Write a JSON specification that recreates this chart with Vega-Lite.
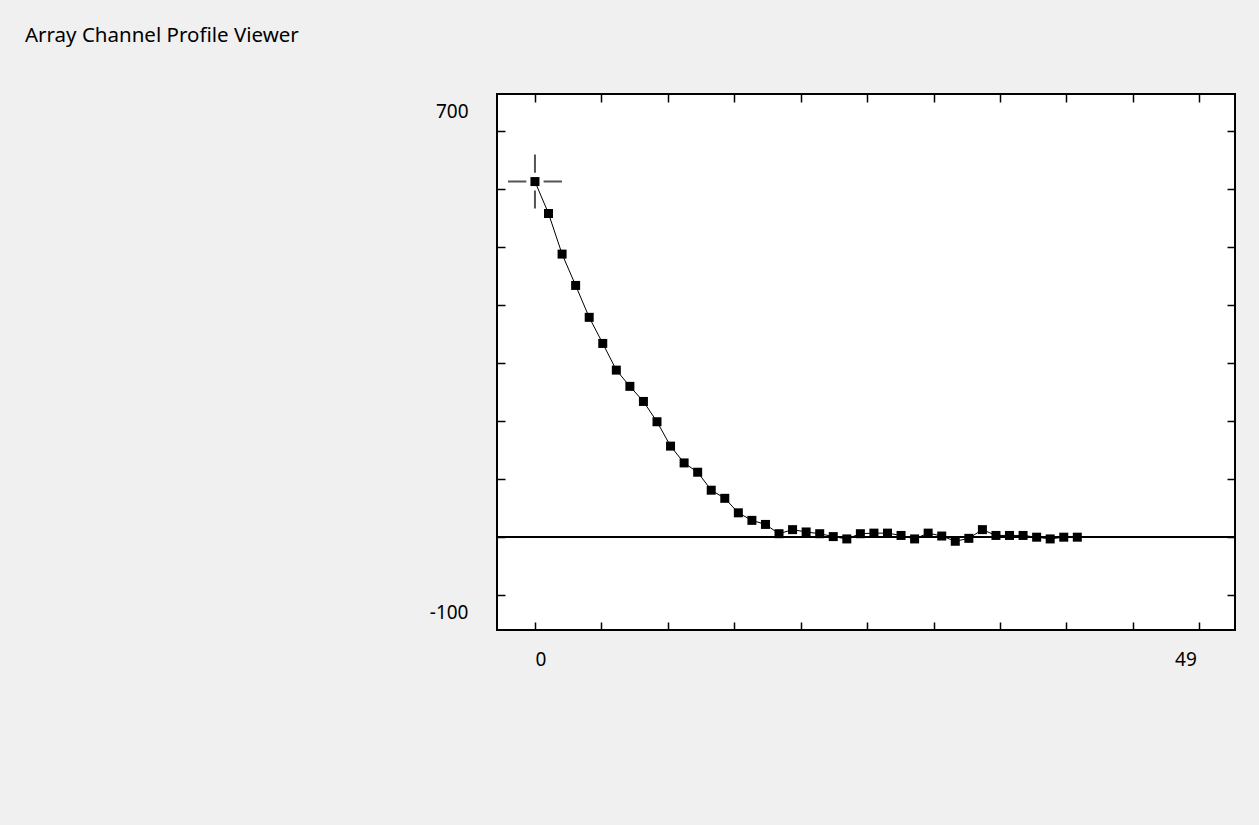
{
  "$schema": "https://vega.github.io/schema/vega-lite/v6.json",
  "autosize": {"type": "none"},
  "width": 738,
  "height": 536,
  "padding": {"left": 497, "top": 94, "right": 24, "bottom": 195},
  "background": "#f0f0f0",
  "title": {
    "text": "Array Channel Profile Viewer",
    "anchor": "start",
    "frame": "group",
    "dx": -472,
    "offset": 31,
    "baseline": "alphabetic",
    "font": "Noto Sans",
    "fontSize": 20.5,
    "fontWeight": "normal",
    "color": "#000000"
  },
  "config": {
    "view": {"fill": "white", "stroke": "#000000", "strokeWidth": 2},
    "axis": {
      "grid": false,
      "domain": false,
      "title": null,
      "tickColor": "#000000",
      "tickWidth": 1.5,
      "tickSize": -8,
      "labelFont": "Noto Sans",
      "labelFontSize": 19,
      "labelColor": "#000000"
    }
  },
  "data": {
    "values": [
      {"i": 0, "value": 613.05}, {"i": 1, "value": 558}, {"i": 2, "value": 488},
      {"i": 3, "value": 434}, {"i": 4, "value": 379}, {"i": 5, "value": 334},
      {"i": 6, "value": 288}, {"i": 7, "value": 260}, {"i": 8, "value": 234},
      {"i": 9, "value": 199}, {"i": 10, "value": 157}, {"i": 11, "value": 128},
      {"i": 12, "value": 112}, {"i": 13, "value": 81}, {"i": 14, "value": 67},
      {"i": 15, "value": 42}, {"i": 16, "value": 29}, {"i": 17, "value": 22},
      {"i": 18, "value": 6}, {"i": 19, "value": 13}, {"i": 20, "value": 9},
      {"i": 21, "value": 6}, {"i": 22, "value": 1}, {"i": 23, "value": -3},
      {"i": 24, "value": 6}, {"i": 25, "value": 7}, {"i": 26, "value": 7},
      {"i": 27, "value": 3}, {"i": 28, "value": -3}, {"i": 29, "value": 7},
      {"i": 30, "value": 2}, {"i": 31, "value": -7}, {"i": 32, "value": -2},
      {"i": 33, "value": 13}, {"i": 34, "value": 3}, {"i": 35, "value": 3},
      {"i": 36, "value": 3}, {"i": 37, "value": 0}, {"i": 38, "value": -3},
      {"i": 39, "value": 0}, {"i": 40, "value": 0}
    ]
  },
  "layer": [
    {
      "mark": {"type": "rule", "color": "#000000", "strokeWidth": 1.5},
      "encoding": {
        "y": {"datum": 0, "type": "quantitative", "scale": {"domain": [-160, 764], "nice": false, "zero": false},
          "axis": {
            "orient": "left",
            "values": [-100, 0, 100, 200, 300, 400, 500, 600, 700],
            "labelExpr": "datum.value == 700 ? '700' : datum.value == -100 ? '-100' : ''",
            "labelPadding": 37,
            "labelBaseline": "middle",
            "labelOffset": {"condition": {"test": "datum.value > 0", "value": -20}, "value": 17}
          }
        }
      }
    },
    {
      "mark": {"type": "line", "color": "#000000", "strokeWidth": 1},
      "encoding": {
        "x": {"field": "i", "type": "quantitative", "scale": {"domain": [-2.8, 51.63], "nice": false, "zero": false},
          "axis": {
            "orient": "bottom",
            "values": [0, 4.9, 9.8, 14.7, 19.6, 24.5, 29.4, 34.3, 39.2, 44.1, 49],
            "labelExpr": "datum.value == 0 ? '0' : datum.value == 49 ? '49' : ''",
            "labelPadding": 28,
            "labelAlign": {"condition": {"test": "datum.value < 1", "value": "left"}, "value": "right"},
            "labelOffset": {"condition": {"test": "datum.value < 1", "value": 0}, "value": -3}
          }
        },
        "y": {"field": "value", "type": "quantitative",
          "axis": {
            "orient": "right",
            "values": [-100, 0, 100, 200, 300, 400, 500, 600, 700],
            "labels": false
          }
        }
      }
    },
    {
      "transform": [{"filter": "datum.i == 0"}],
      "mark": {
        "type": "point",
        "shape": "M-1,0L-0.32,0M0.32,0L1,0M0,-1L0,-0.33M0,0.33L0,1",
        "size": 2916,
        "filled": false,
        "stroke": "#555555",
        "strokeWidth": 2,
        "opacity": 1
      },
      "encoding": {
        "x": {"field": "i", "type": "quantitative",
          "axis": {
            "orient": "top",
            "values": [0, 4.9, 9.8, 14.7, 19.6, 24.5, 29.4, 34.3, 39.2, 44.1, 49],
            "labels": false
          }
        },
        "y": {"field": "value", "type": "quantitative", "axis": null}
      }
    },
    {
      "mark": {"type": "point", "shape": "square", "filled": true, "size": 81, "color": "#000000", "opacity": 1},
      "encoding": {
        "x": {"field": "i", "type": "quantitative", "axis": null},
        "y": {"field": "value", "type": "quantitative", "axis": null}
      }
    }
  ],
  "resolve": {"axis": {"x": "independent", "y": "independent"}}
}
